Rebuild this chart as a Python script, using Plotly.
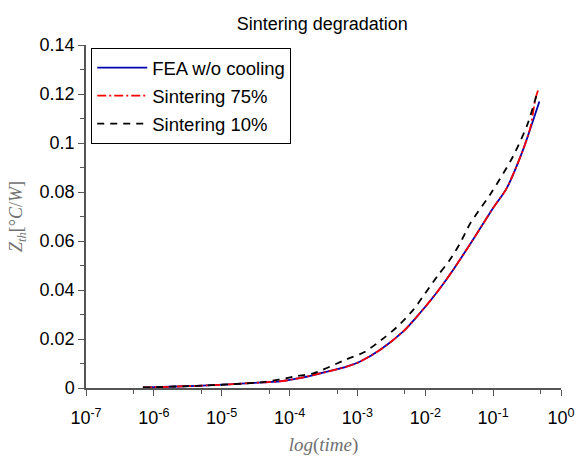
import plotly.graph_objects as go

# Data (time in s, Zth in °C/W)
t_fea = [6.9e-7, 1.0e-6, 4.3e-6, 1.3e-5, 4.1e-5, 7.2e-5, 1.26e-4, 2.24e-4, 6.9e-4, 1.08e-3,
         2.14e-3, 4.7e-3, 8.3e-3, 1.45e-2, 2.57e-2, 4.57e-2, 7.1e-2, 0.1, 0.158, 0.275, 0.39, 0.48]
z_fea = [0.0002, 0.0003, 0.0009, 0.0015, 0.0023, 0.0027, 0.0038, 0.0053, 0.0087, 0.0107,
         0.0155, 0.0230, 0.0305, 0.0387, 0.0482, 0.0587, 0.0670, 0.0735, 0.0815, 0.0971, 0.1094, 0.1169]

t_s75 = [6.9e-7, 1.0e-6, 4.3e-6, 1.3e-5, 4.1e-5, 7.2e-5, 1.26e-4, 2.24e-4, 6.9e-4, 1.08e-3,
         2.14e-3, 4.7e-3, 8.3e-3, 1.45e-2, 2.57e-2, 4.57e-2, 7.1e-2, 0.1, 0.158, 0.275, 0.355, 0.417, 0.473]
z_s75 = [0.0002, 0.0003, 0.0009, 0.0015, 0.0023, 0.0027, 0.0038, 0.0053, 0.0087, 0.0107,
         0.0155, 0.0230, 0.0305, 0.0387, 0.0482, 0.0587, 0.0670, 0.0735, 0.0815, 0.0971, 0.1065, 0.1176, 0.1226]

t_s10 = [6.9e-7, 4.3e-6, 1.3e-5, 4.1e-5, 1.26e-4, 2.24e-4, 6.9e-4, 1.29e-3, 2.24e-3,
         3.8e-3, 6.6e-3, 1.0e-2, 1.55e-2, 2.29e-2, 3.24e-2, 4.6e-2, 9.3e-2, 0.195, 0.324, 0.457]
z_s10 = [0.0002, 0.0009, 0.0015, 0.0024, 0.0048, 0.0060, 0.0117, 0.0148, 0.0196,
         0.0248, 0.0318, 0.0387, 0.0461, 0.0522, 0.0590, 0.0672, 0.0795, 0.0944, 0.1080, 0.1216]

x_tickvals = [1e-7, 1e-6, 1e-5, 1e-4, 1e-3, 1e-2, 1e-1, 1e0]
x_ticktext = ["10<sup>-7</sup>", "10<sup>-6</sup>", "10<sup>-5</sup>", "10<sup>-4</sup>",
              "10<sup>-3</sup>", "10<sup>-2</sup>", "10<sup>-1</sup>", "10<sup>0</sup>"]
x_minor = [5e-7, 5e-6, 5e-5, 5e-4, 5e-3, 5e-2, 5e-1]
y_tickvals = [0, 0.02, 0.04, 0.06, 0.08, 0.1, 0.12, 0.14]
y_ticktext = ["0", "0.02", "0.04", "0.06", "0.08", "0.1", "0.12", "0.14"]
y_minor = [0.01, 0.03, 0.05, 0.07, 0.09, 0.11, 0.13]

fig = go.Figure()
fig.add_trace(go.Scatter(x=t_fea, y=z_fea, mode="lines", name="FEA w/o cooling", legendgroup="a",
                         line=dict(color="#0000b0", width=1.8, shape="spline", smoothing=0.8)))
fig.add_trace(go.Scatter(x=t_s75, y=z_s75, mode="lines", name="Sintering 75%", legendgroup="b",
                         line=dict(color="#ff0000", width=1.8, dash="9px,3px,2px,3px",
                                   shape="spline", smoothing=0.8)))
fig.add_trace(go.Scatter(x=t_s10, y=z_s10, mode="lines", name="Sintering 10%", legendgroup="c",
                         line=dict(color="#000000", width=1.8, dash="7px,6px",
                                   shape="spline", smoothing=0.8)))

axis_font = dict(family="Liberation Sans, Arial, sans-serif", size=18, color="#000000")

fig.update_layout(
    width=578, height=457,
    margin=dict(l=86, r=17, t=45, b=69),
    paper_bgcolor="white", plot_bgcolor="white",
    title=dict(text="Sintering degradation", x=0.5575, xanchor="center", y=0.949, yanchor="middle",
               font=dict(family="Liberation Sans, Arial, sans-serif", size=18, color="#000000")),
    showlegend=True,
    legend=dict(x=0.011, y=0.991, xanchor="left", yanchor="top",
                bgcolor="white", bordercolor="#000000", borderwidth=1,
                font=dict(family="Liberation Sans, Arial, sans-serif", size=18.5, color="#000000"),
                itemwidth=50, traceorder="grouped", tracegroupgap=1),
    xaxis=dict(type="log", range=[-7, 0], tickvals=x_tickvals, ticktext=x_ticktext,
               ticks="outside", ticklen=6, tickcolor="#555555", tickwidth=1,
               showline=True, linecolor="#555555", linewidth=1.5, showgrid=False, zeroline=False,
               tickfont=axis_font, ticklabelstandoff=7, automargin=False,
               minor=dict(tickvals=x_minor, ticks="outside", ticklen=4, tickcolor="#555555", showgrid=False),
               title=dict(text="<i>log</i>(<i>time</i>)", standoff=10,
                          font=dict(family="Liberation Serif, serif", size=19, color="#707070"))),
    yaxis=dict(range=[0, 0.14], tickvals=y_tickvals, ticktext=y_ticktext,
               ticks="outside", ticklen=6, tickcolor="#555555", tickwidth=1,
               showline=True, linecolor="#555555", linewidth=1.5, showgrid=False, zeroline=False,
               tickfont=axis_font, automargin=False,
               minor=dict(tickvals=y_minor, ticks="outside", ticklen=4, tickcolor="#555555", showgrid=False),
               title=dict(text="<i>Z</i><sub><i>th</i></sub>[°<i>C</i>/<i>W</i>]", standoff=12,
                          font=dict(family="Liberation Serif, serif", size=18, color="#707070"))),
)

fig.write_html("out.html")
